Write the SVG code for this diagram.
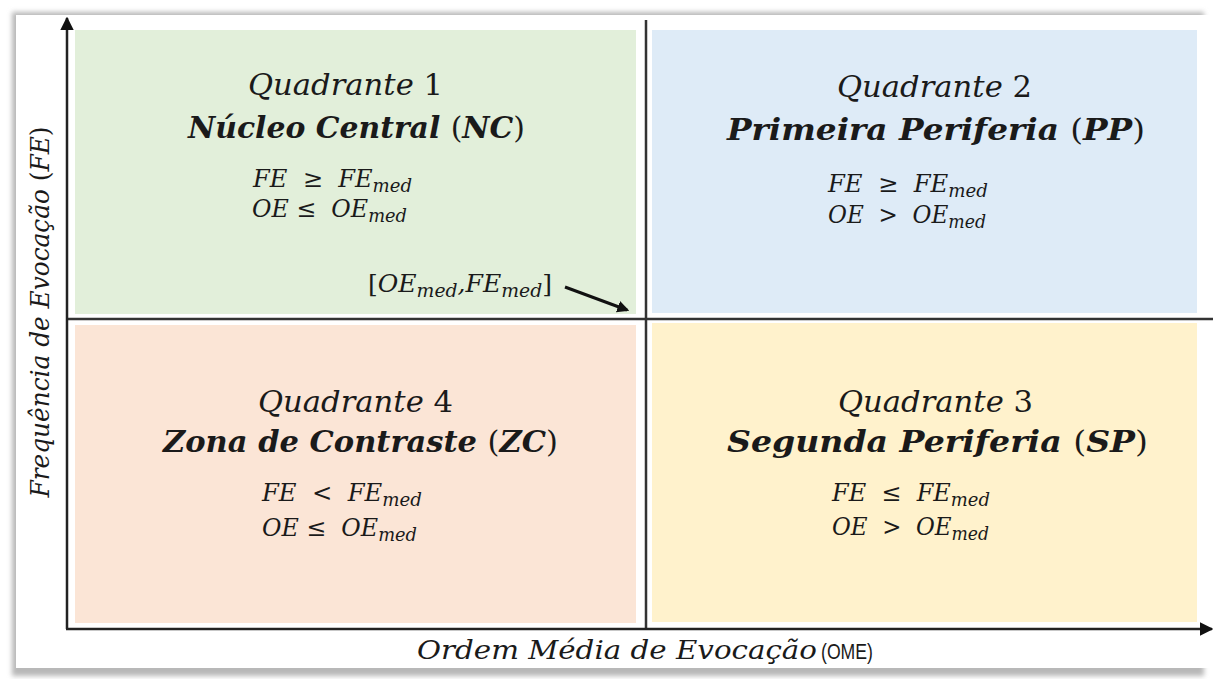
<svg xmlns="http://www.w3.org/2000/svg" width="1213" height="679" viewBox="0 0 1213 679">
<defs>
<filter id="sh" x="-5%" y="-5%" width="110%" height="110%"><feGaussianBlur stdDeviation="2.5"/></filter>
<marker id="ah" viewBox="0 0 10 10" refX="9" refY="5" markerWidth="5.5" markerHeight="5.5" orient="auto" markerUnits="strokeWidth"><path d="M0,0 L10,5 L0,10 z" fill="#111"/></marker>
<marker id="ah2" viewBox="0 0 10 10" refX="8" refY="5" markerWidth="4" markerHeight="4" orient="auto" markerUnits="strokeWidth"><path d="M0,0 L10,5 L0,10 z" fill="#111"/></marker>
</defs>
<style>
.m{font-family:"DejaVu Serif","Liberation Serif",serif;font-style:italic;fill:#1a1a1a}
.q{font-size:30px}
.t{font-size:29px;font-weight:bold}
.f{font-size:24px}
.s{font-size:18px}
.u{font-style:normal}
.ax{stroke:#222;stroke-width:2.5;fill:none}
.dv{stroke:#333;stroke-width:2.5;fill:none}
</style>
<rect width="1213" height="679" fill="#fff"/>
<rect x="12" y="12" width="1192" height="664" fill="#b8b8b8" filter="url(#sh)"/>
<rect x="16" y="15" width="1197" height="653" fill="#fff"/>
<g id="q1"><rect x="75" y="30" width="561" height="284" fill="#e2efda"/>
<text class="m q" x="248" y="95" textLength="195" lengthAdjust="spacingAndGlyphs">Quadrante <tspan class="u">1</tspan></text>
<text class="m t" x="188" y="138" textLength="337" lengthAdjust="spacingAndGlyphs">Núcleo Central <tspan class="u" font-weight="normal">(</tspan>NC<tspan class="u" font-weight="normal">)</tspan></text>
<text class="m f" x="253" y="187" textLength="159" lengthAdjust="spacingAndGlyphs">FE&#160;&#160;<tspan class="u">≥</tspan>&#160;&#160;FE<tspan class="s" dy="5">med</tspan></text>
<text class="m f" x="252" y="217" textLength="155" lengthAdjust="spacingAndGlyphs">OE&#160;<tspan class="u">≤</tspan>&#160;&#160;OE<tspan class="s" dy="5">med</tspan></text>
<text class="m f" x="368" y="292" textLength="184" lengthAdjust="spacingAndGlyphs"><tspan class="u">[</tspan>OE<tspan class="s" dy="5">med</tspan><tspan dy="-5">,</tspan>FE<tspan class="s" dy="5">med</tspan><tspan class="u" dy="-5">]</tspan></text>
</g>
<g id="q2"><rect x="652" y="30" width="545" height="283" fill="#deebf7"/>
<text class="m q" x="837" y="97" textLength="195" lengthAdjust="spacingAndGlyphs">Quadrante <tspan class="u">2</tspan></text>
<text class="m t" x="727" y="140" textLength="418" lengthAdjust="spacingAndGlyphs">Primeira Periferia <tspan class="u" font-weight="normal">(</tspan>PP<tspan class="u" font-weight="normal">)</tspan></text>
<text class="m f" x="828" y="192" textLength="160" lengthAdjust="spacingAndGlyphs">FE&#160;&#160;<tspan class="u">≥</tspan>&#160;&#160;FE<tspan class="s" dy="5">med</tspan></text>
<text class="m f" x="828" y="223" textLength="158" lengthAdjust="spacingAndGlyphs">OE&#160;&#160;<tspan class="u">&gt;</tspan>&#160;&#160;OE<tspan class="s" dy="5">med</tspan></text>
</g>
<g id="q4"><rect x="75" y="325" width="561" height="298" fill="#fbe5d6"/>
<text class="m q" x="258" y="412" textLength="195" lengthAdjust="spacingAndGlyphs">Quadrante <tspan class="u">4</tspan></text>
<text class="m t" x="163" y="452" textLength="395" lengthAdjust="spacingAndGlyphs">Zona de Contraste <tspan class="u" font-weight="normal">(</tspan>ZC<tspan class="u" font-weight="normal">)</tspan></text>
<text class="m f" x="262" y="501" textLength="160" lengthAdjust="spacingAndGlyphs">FE&#160;&#160;<tspan class="u">&lt;</tspan>&#160;&#160;FE<tspan class="s" dy="5">med</tspan></text>
<text class="m f" x="262" y="536" textLength="155" lengthAdjust="spacingAndGlyphs">OE&#160;<tspan class="u">≤</tspan>&#160;&#160;OE<tspan class="s" dy="5">med</tspan></text>
</g>
<g id="q3"><rect x="652" y="323" width="545" height="299" fill="#fff2cc"/>
<text class="m q" x="838" y="412" textLength="195" lengthAdjust="spacingAndGlyphs">Quadrante <tspan class="u">3</tspan></text>
<text class="m t" x="727" y="452" textLength="421" lengthAdjust="spacingAndGlyphs">Segunda Periferia <tspan class="u" font-weight="normal">(</tspan>SP<tspan class="u" font-weight="normal">)</tspan></text>
<text class="m f" x="832" y="501" textLength="158" lengthAdjust="spacingAndGlyphs">FE&#160;&#160;<tspan class="u">≤</tspan>&#160;&#160;FE<tspan class="s" dy="5">med</tspan></text>
<text class="m f" x="832" y="535" textLength="157" lengthAdjust="spacingAndGlyphs">OE&#160;&#160;<tspan class="u">&gt;</tspan>&#160;&#160;OE<tspan class="s" dy="5">med</tspan></text>
</g>
<g id="connectors">
<line class="dv" x1="646" y1="20" x2="646" y2="629"/>
<line class="dv" x1="67" y1="319" x2="1213" y2="319"/>
<line class="ax" x1="67" y1="629" x2="67" y2="18" marker-end="url(#ah)"/>
<line class="ax" x1="66" y1="629" x2="1212" y2="629" marker-end="url(#ah)"/>
<line x1="565" y1="287" x2="627" y2="310" stroke="#111" stroke-width="3" marker-end="url(#ah2)"/>
</g>
<g id="axis-labels">
<text class="m" font-size="26" transform="translate(49,312) rotate(-90)" text-anchor="middle" textLength="371" lengthAdjust="spacingAndGlyphs">Frequência de Evocação <tspan class="u">(</tspan>FE<tspan class="u">)</tspan></text>
<text class="m" font-size="26" x="417" y="659" textLength="400" lengthAdjust="spacingAndGlyphs">Ordem Média de Evocação</text>
<text x="821" y="659" font-family="'Liberation Sans',sans-serif" font-size="22" fill="#1a1a1a" textLength="52" lengthAdjust="spacingAndGlyphs">(OME)</text>
</g>
</svg>
